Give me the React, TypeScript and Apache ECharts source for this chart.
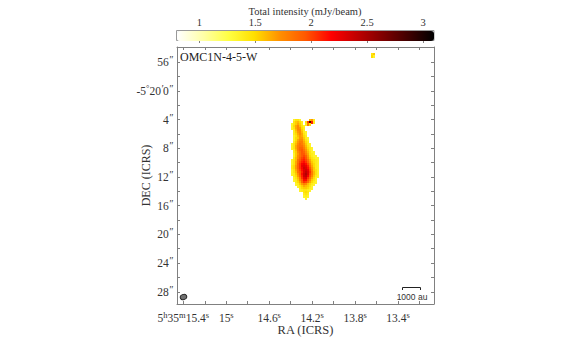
import React, { useEffect, useRef } from "react";
import * as echarts from "echarts";

const serif = "Liberation Serif";
const grey = "#808080";

const raTicks = [15.4, 15.2, 15, 14.8, 14.6, 14.4, 14.2, 14, 13.8, 13.6, 13.4, 13.2];
const raLabelValues = [15.4, 15, 14.6, 14.2, 13.8, 13.4];
const raLabels = ["5{s|h}35{s|m}15.4{s|s}", "15{s|s}", "14.6{s|s}", "14.2{s|s}", "13.8{s|s}", "13.4{s|s}"];
const decTicks = [54, 56, 58, 60, 62, 64, 66, 68, 70, 72, 74, 76, 78, 80, 82, 84, 86, 88];
const decLabelValues = [56, 60, 64, 68, 72, 76, 80, 84, 88];
const decLabels = ["56{p|″}", "-5{s|°}20{p|′}0{p|″}", "4{p|″}", "8{p|″}", "12{p|″}", "16{p|″}", "20{p|″}", "24{p|″}", "28{p|″}"];
const barTicks = [1, 1.5, 2, 2.5, 3];

const rampColors = ["#ffffff", "#ffffaa", "#ffff44", "#ffe000", "#ff9000", "#ff5800", "#ff0000", "#c00000", "#800000", "#400000", "#000000"];

// Intensity cells: first RA, first Dec, and cell size in the axes' own units.
const ra0 = 14.405;
const dec0 = 63.81;
const dRa = 0.0186;
const dDec = 0.279;
const blobRows: number[][] = [
  [0, 0, 0, 0, 0, 0, 0, 0, 0, 0, 0, 0],
  [0, 0, 1.35, 1.45, 1.45, 1.35, 0, 0, 0, 0, 1.6, 1.7, 1.4],
  [0, 0, 1.45, 1.55, 1.6, 1.5, 1.4, 0, 1.45, 2.0, 2.8, 2.1, 1.4],
  [0, 1.35, 1.45, 1.55, 1.65, 1.55, 1.4, 0, 1.4, 1.8, 1.5],
  [0, 1.35, 1.5, 1.65, 1.75, 1.6, 1.45, 1.35],
  [0, 1.35, 1.45, 1.65, 1.75, 1.7, 1.5, 1.4],
  [0, 0, 1.4, 1.6, 1.75, 1.75, 1.55, 1.4],
  [0, 0, 1.4, 1.55, 1.7, 1.75, 1.6, 1.4, 1.35],
  [0, 0, 1.4, 1.5, 1.65, 1.75, 1.65, 1.45, 1.35],
  [0, 0, 1.35, 1.45, 1.6, 1.7, 1.65, 1.5, 1.4],
  [0, 0, 1.35, 1.5, 1.55, 1.7, 1.7, 1.55, 1.4, 1.35],
  [0, 0, 1.35, 1.5, 1.65, 1.75, 1.75, 1.6, 1.45, 1.35],
  [0, 0, 1.4, 1.55, 1.7, 1.8, 1.8, 1.65, 1.5, 1.4],
  [0, 1.35, 1.45, 1.6, 1.75, 1.85, 1.8, 1.7, 1.55, 1.4, 1.35],
  [0, 1.35, 1.45, 1.65, 1.8, 1.85, 1.85, 1.75, 1.6, 1.45, 1.35],
  [0, 1.35, 1.45, 1.65, 1.8, 1.9, 1.9, 1.8, 1.65, 1.5, 1.4, 1.35],
  [0, 0, 1.4, 1.6, 1.8, 1.9, 1.95, 1.85, 1.7, 1.55, 1.4, 1.35],
  [0, 0, 1.4, 1.55, 1.75, 1.85, 1.95, 1.9, 1.75, 1.6, 1.45, 1.35, 1.35],
  [0, 0, 1.35, 1.55, 1.7, 1.85, 1.95, 1.95, 1.8, 1.65, 1.45, 1.4, 1.35],
  [0, 0, 1.35, 1.55, 1.75, 1.85, 1.95, 2.0, 1.9, 1.7, 1.5, 1.4, 1.35, 1.35],
  [0, 0, 1.4, 1.6, 1.75, 1.9, 2.0, 2.05, 1.95, 1.75, 1.55, 1.45, 1.4, 1.35, 1.35],
  [0, 1.35, 1.45, 1.6, 1.85, 1.95, 2.05, 2.1, 2.0, 1.85, 1.65, 1.5, 1.45, 1.4, 1.35],
  [0, 1.35, 1.45, 1.65, 1.85, 2.0, 2.1, 2.15, 2.05, 1.9, 1.7, 1.55, 1.45, 1.4, 1.35],
  [0, 1.35, 1.45, 1.65, 1.9, 2.05, 2.2, 2.25, 2.15, 2.0, 1.8, 1.6, 1.5, 1.4, 1.35],
  [0, 1.4, 1.5, 1.7, 1.9, 2.05, 2.25, 2.3, 2.25, 2.1, 1.85, 1.65, 1.5, 1.4, 1.35],
  [0, 1.4, 1.5, 1.7, 1.9, 2.05, 2.2, 2.35, 2.3, 2.15, 1.95, 1.7, 1.55, 1.4, 1.35],
  [0, 1.35, 1.45, 1.65, 1.85, 2.0, 2.15, 2.3, 2.35, 2.25, 2.0, 1.75, 1.55, 1.45, 1.35],
  [0, 1.35, 1.45, 1.6, 1.85, 1.95, 2.1, 2.3, 2.4, 2.3, 2.05, 1.8, 1.6, 1.45, 1.35],
  [0, 1.35, 1.4, 1.55, 1.75, 1.95, 2.15, 2.35, 2.45, 2.3, 2.0, 1.8, 1.6, 1.45, 1.35],
  [0, 0, 1.4, 1.5, 1.7, 1.9, 2.1, 2.35, 2.4, 2.2, 1.95, 1.75, 1.55, 1.4, 1.35],
  [0, 0, 1.35, 1.45, 1.6, 1.8, 2.05, 2.25, 2.3, 2.05, 1.85, 1.65, 1.5, 1.35],
  [0, 0, 1.35, 1.4, 1.55, 1.75, 1.95, 2.15, 2.15, 1.95, 1.75, 1.55, 1.45, 1.35],
  [0, 0, 0, 1.4, 1.5, 1.65, 1.9, 2.05, 2.0, 1.85, 1.65, 1.5, 1.4, 1.35],
  [0, 0, 0, 1.35, 1.4, 1.55, 1.7, 1.8, 1.75, 1.6, 1.5, 1.4, 1.35],
  [0, 0, 0, 0, 1.35, 1.45, 1.55, 1.65, 1.6, 1.55, 1.45, 1.35],
  [0, 0, 0, 0, 0, 1.4, 1.5, 1.55, 1.55, 1.5, 1.4, 1.35],
  [0, 0, 0, 0, 0, 1.35, 1.4, 1.45, 1.45, 1.4, 1.35],
  [0, 0, 0, 0, 0, 0, 0, 1.45, 1.5, 1.45],
  [0, 0, 0, 0, 0, 0, 0, 1.4, 1.45, 1.4],
  [0, 0, 0, 0, 0, 0, 0, 1.35, 1.4, 1.35],
  [0, 0, 0, 0, 0, 0, 0, 0, 1.35],
];
const spotRa = [13.643, 13.625, 13.643, 13.625];
const spotDec = [55.0, 55.0, 55.28, 55.28];
const spotValues = [1.45, 1.55, 1.5, 1.35];

const cells: number[][] = [];
blobRows.forEach((row, r) =>
  row.forEach((v, c) => {
    if (v > 0) cells.push([ra0 - c * dRa, dec0 + r * dDec, v]);
  })
);
spotValues.forEach((v, i) => cells.push([spotRa[i], spotDec[i], v]));

function pick(values: number[], labels: string[]) {
  return (v: number) => {
    const i = values.findIndex((t) => Math.abs(t - v) < 1e-6);
    return i < 0 ? "" : labels[i];
  };
}

const labelRich = {
  s: { fontFamily: serif, fontSize: 8.5, color: "#333", verticalAlign: "top", lineHeight: 9 },
  p: { fontFamily: serif, fontSize: 10, fontStyle: "italic", color: "#333", verticalAlign: "top", lineHeight: 10 },
};

function renderCell(_: any, api: any) {
  const p = api.coord([api.value(0), api.value(1)]);
  const s = api.size([dRa, dDec]);
  const w = Math.ceil(s[0]);
  const h = Math.ceil(s[1]);
  return {
    type: "rect",
    shape: { x: Math.round(p[0] - w / 2), y: Math.round(p[1] - h / 2), width: w, height: h },
    style: { fill: api.visual("color") },
  };
}

const frameAxis = {
  axisLine: { show: true, onZero: false, lineStyle: { color: grey, width: 1 } },
  splitLine: { show: false },
};

export default function App() {
  const ref = useRef<HTMLDivElement>(null);
  useEffect(() => {
    const chart = echarts.init(ref.current!, undefined, { renderer: "svg" });
    chart.setOption({
      animation: false,
      backgroundColor: "#fff",
      textStyle: { fontFamily: serif },
      visualMap: {
        type: "continuous",
        min: 0.8,
        max: 3.1,
        orient: "horizontal",
        left: 177,
        top: 31,
        itemWidth: 10,
        itemHeight: 257,
        padding: 0,
        text: ["", ""],
        showLabel: false,
        calculable: false,
        realtime: false,
        hoverLink: false,
        seriesIndex: 0,
        inRange: { color: rampColors },
        borderWidth: 0,
      },
      grid: [
        { left: 177, right: 152, top: 47, bottom: 35, outerBoundsMode: "none" },
        { left: 177, right: 152, top: 31, height: 10, outerBoundsMode: "none" },
      ],
      xAxis: [
        {
          type: "value", gridIndex: 0, inverse: true, min: 13.065, max: 15.459, position: "bottom",
          name: "RA (ICRS)", nameLocation: "middle", nameGap: 19, nameMoveOverlap: false,
          nameTextStyle: { fontFamily: serif, fontSize: 12.5, color: "#333" },
          ...frameAxis,
          axisTick: { inside: true, length: 3, lineStyle: { color: grey }, customValues: raTicks },
          axisLabel: {
            customValues: raLabelValues, formatter: pick(raLabelValues, raLabels), margin: 6, lineHeight: 15,
            fontFamily: serif, fontSize: 11.5, color: "#333", rich: labelRich, hideOverlap: false, showMinLabel: true, showMaxLabel: true,
          },
        },
        {
          type: "value", gridIndex: 0, inverse: true, min: 13.065, max: 15.459, position: "top",
          ...frameAxis,
          axisTick: { inside: true, length: 3, lineStyle: { color: grey }, customValues: raTicks },
          axisLabel: { show: false },
        },
        {
          type: "value", gridIndex: 1, min: 0.8, max: 3.098, position: "top",
          axisLine: { show: false }, splitLine: { show: false },
          axisTick: { inside: true, length: 2, lineStyle: { color: grey }, customValues: barTicks },
          axisLabel: {
            customValues: barTicks, formatter: (v: number) => String(v), margin: 3,
            fontFamily: serif, fontSize: 10.5, color: "#333",
          },
        },
      ],
      yAxis: [
        {
          type: "value", gridIndex: 0, inverse: true, min: 53.9, max: 89.7, position: "left",
          name: "DEC (ICRS)", nameLocation: "middle", nameGap: 25, nameRotate: 90, nameMoveOverlap: false,
          nameTextStyle: { fontFamily: serif, fontSize: 12, color: "#333" },
          ...frameAxis,
          axisTick: { inside: true, length: 3, lineStyle: { color: grey }, customValues: decTicks },
          axisLabel: {
            customValues: decLabelValues, formatter: pick(decLabelValues, decLabels), margin: 4, lineHeight: 15,
            fontFamily: serif, fontSize: 11.5, color: "#333", rich: labelRich,
          },
        },
        {
          type: "value", gridIndex: 0, inverse: true, min: 53.9, max: 89.7, position: "right",
          ...frameAxis,
          axisTick: { inside: true, length: 3, lineStyle: { color: grey }, customValues: decTicks },
          axisLabel: { show: false },
        },
        { type: "value", gridIndex: 1, show: false, min: 0, max: 1 },
      ],
      series: [
        {
          type: "custom", xAxisIndex: 0, yAxisIndex: 0, renderItem: renderCell,
          data: cells, encode: { x: 0, y: 1 }, silent: true, clip: true,
        },
      ],
      graphic: [
        { type: "text", x: 180, y: 51, style: { text: "OMC1N-4-5-W", fontFamily: serif, fontSize: 12, fill: "#222" } },
        { type: "text", x: 305, y: 11.5, style: { text: "Total intensity (mJy/beam)", fontFamily: serif, fontSize: 10.5, fill: "#333", align: "center", verticalAlign: "middle" } },
        { type: "ellipse", x: 183.5, y: 297, rotation: 0.4, shape: { cx: 0, cy: 0, rx: 3.3, ry: 2.6 }, style: { fill: "#707070", stroke: "#222", lineWidth: 1 } },
        { type: "polyline", shape: { points: [[402.5, 290], [402.5, 287.5], [420.5, 287.5], [420.5, 290]] }, style: { stroke: "#222", fill: "none", lineWidth: 1 } },
        { type: "text", x: 412, y: 296.5, style: { text: "1000 au", fontFamily: "Liberation Sans", fontSize: 8.5, fill: "#333", align: "center", verticalAlign: "middle" } },
        { type: "rect", shape: { x: 176.5, y: 30.5, width: 257.5, height: 10 }, style: { fill: "none", stroke: "#999", lineWidth: 1 } },
      ],
    });
    return () => chart.dispose();
  }, []);
  return <div ref={ref} style={{ position: "fixed", left: 0, top: 0, width: 586, height: 339 }} />;
}
